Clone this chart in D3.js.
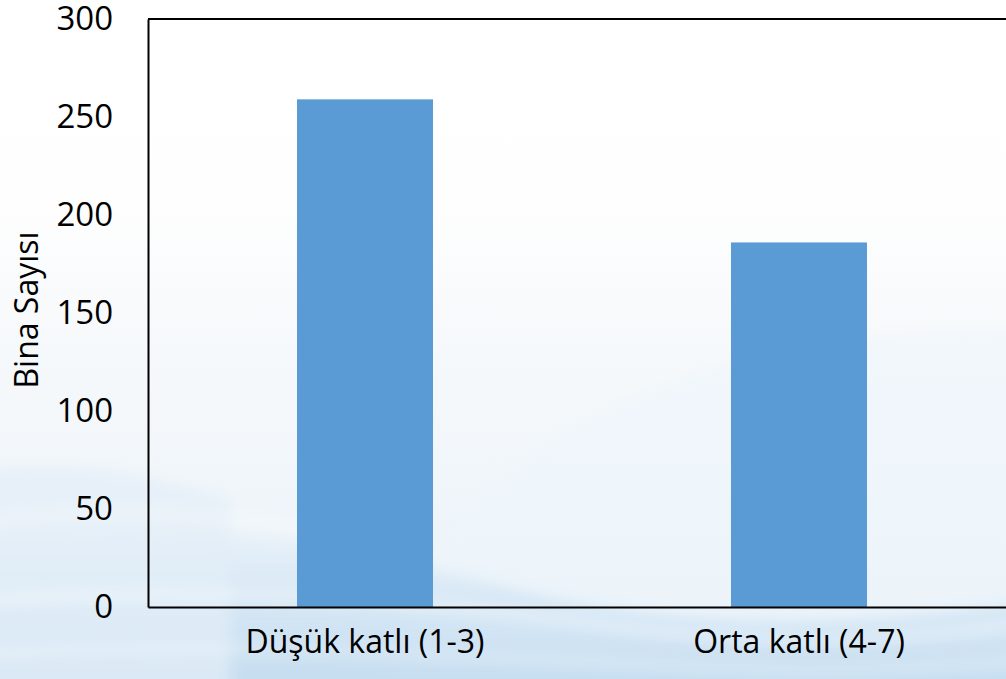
<!DOCTYPE html>
<html>
<head>
<meta charset="utf-8">
<script src="https://cdn.jsdelivr.net/npm/d3@7"></script>
<style>
  html, body { margin: 0; padding: 0; background: #ffffff; }
  svg { display: block; }
  text { font-family: "Open Sans", "Noto Sans", sans-serif; fill: #000; }
</style>
</head>
<body>
<svg id="chart" width="1006" height="679"></svg>
<script>
// Building counts by storey class
const categories = ["Düşük katlı (1-3)", "Orta katlı (4-7)"];
const buildingCounts = [259, 186];
const yTicks = [0, 50, 100, 150, 200, 250, 300];
const yTitle = "Bina Sayısı";

const W = 1006, H = 679;
const plot = { left: 148, top: 19, bottom: 607, right: 1016 };

const svg = d3.select("#chart");
const defs = svg.append("defs");

// Soft water-like backdrop: white sky fading into pale blue toward the bottom
const bg = defs.append("linearGradient").attr("id", "bgGrad")
  .attr("x1", 0).attr("y1", 0).attr("x2", 0).attr("y2", 1);
bg.append("stop").attr("offset", "0%").attr("stop-color", "#ffffff");
bg.append("stop").attr("offset", "30%").attr("stop-color", "#fefefe");
bg.append("stop").attr("offset", "45%").attr("stop-color", "#f8fafc");
bg.append("stop").attr("offset", "70%").attr("stop-color", "#f1f6fa");
bg.append("stop").attr("offset", "100%").attr("stop-color", "#e3eef7");
svg.append("rect").attr("width", W).attr("height", H).attr("fill", "url(#bgGrad)");

const waveGrad = defs.append("linearGradient").attr("id", "waveGrad")
  .attr("x1", 0).attr("y1", 0).attr("x2", 0).attr("y2", 1);
waveGrad.append("stop").attr("offset", "0%").attr("stop-color", "#dceaf6").attr("stop-opacity", 0.3);
waveGrad.append("stop").attr("offset", "40%").attr("stop-color", "#d2e5f4").attr("stop-opacity", 0.8);
waveGrad.append("stop").attr("offset", "100%").attr("stop-color", "#c2dbef").attr("stop-opacity", 1);

const blur = defs.append("filter").attr("id", "soft").attr("x", "-10%").attr("y", "-10%")
  .attr("width", "120%").attr("height", "120%");
blur.append("feGaussianBlur").attr("stdDeviation", 7);

const waves = svg.append("g").attr("filter", "url(#soft)");
// right-hand swell arching down from the upper right
waves.append("path")
  .attr("d", "M380,679 C420,470 640,330 1006,330 L1040,330 L1040,700 L380,700 Z")
  .attr("fill", "#eef5fb").attr("opacity", 0.6);
// broad swell sweeping from the lower left
waves.append("path")
  .attr("d", "M-20,540 C150,515 330,540 520,590 C680,630 860,630 1030,600 L1030,700 L-20,700 Z")
  .attr("fill", "url(#waveGrad)");
// left band behind the axis labels
waves.append("path")
  .attr("d", "M-20,470 C60,460 140,470 230,500 L230,700 L-20,700 Z")
  .attr("fill", "#e2eef8").attr("opacity", 0.7);
// bright crests
waves.append("path")
  .attr("d", "M-10,600 C200,585 420,600 620,628 C780,648 900,640 1020,625")
  .attr("fill", "none").attr("stroke", "#ffffff").attr("stroke-width", 7).attr("opacity", 0.55);
waves.append("path")
  .attr("d", "M-10,655 C220,640 460,655 700,668 C840,675 930,668 1020,662")
  .attr("fill", "none").attr("stroke", "#ffffff").attr("stroke-width", 6).attr("opacity", 0.4);
waves.append("path")
  .attr("d", "M-10,520 C120,505 260,515 400,545")
  .attr("fill", "none").attr("stroke", "#ffffff").attr("stroke-width", 8).attr("opacity", 0.45);

// Scales
const x = d3.scaleBand()
  .domain(categories)
  .range([plot.left, plot.right])
  .paddingInner(0.6866)
  .paddingOuter(0.6866 / 2);

const y = d3.scaleLinear()
  .domain([0, 300])
  .range([plot.bottom, plot.top]);

// Bars
svg.append("g").selectAll("rect")
  .data(categories.map((c, i) => ({ c, v: buildingCounts[i] })))
  .join("rect")
  .attr("x", d => x(d.c))
  .attr("y", d => y(d.v))
  .attr("width", x.bandwidth())
  .attr("height", d => y(0) - y(d.v))
  .attr("fill", "#5b9bd5");

// Frame: top edge of plot area
svg.append("line")
  .attr("x1", plot.left).attr("x2", plot.right)
  .attr("y1", plot.top).attr("y2", plot.top)
  .attr("stroke", "#000").attr("stroke-width", 2);

// Y axis
const yAxis = svg.append("g")
  .attr("transform", `translate(${plot.left},0)`)
  .call(d3.axisLeft(y).tickValues(yTicks).tickSize(0).tickPadding(35));
yAxis.select(".domain").attr("stroke", "#000").attr("stroke-width", 2);
yAxis.selectAll("text")
  .style("font-family", "'Open Sans', sans-serif")
  .style("font-size", "33px")
  .attr("fill", "#000");

// X axis
const xAxis = svg.append("g")
  .attr("transform", `translate(0,${plot.bottom})`)
  .call(d3.axisBottom(x).tickSize(0).tickPadding(23));
xAxis.select(".domain").attr("stroke", "#000").attr("stroke-width", 2);
xAxis.selectAll("text")
  .style("font-family", "'Open Sans', sans-serif")
  .style("font-size", "32px")
  .attr("fill", "#000");

// Y axis title
svg.append("text")
  .attr("transform", `translate(38,310) rotate(-90)`)
  .attr("text-anchor", "middle")
  .style("font-size", "32px")
  .text(yTitle);
</script>
</body>
</html>
